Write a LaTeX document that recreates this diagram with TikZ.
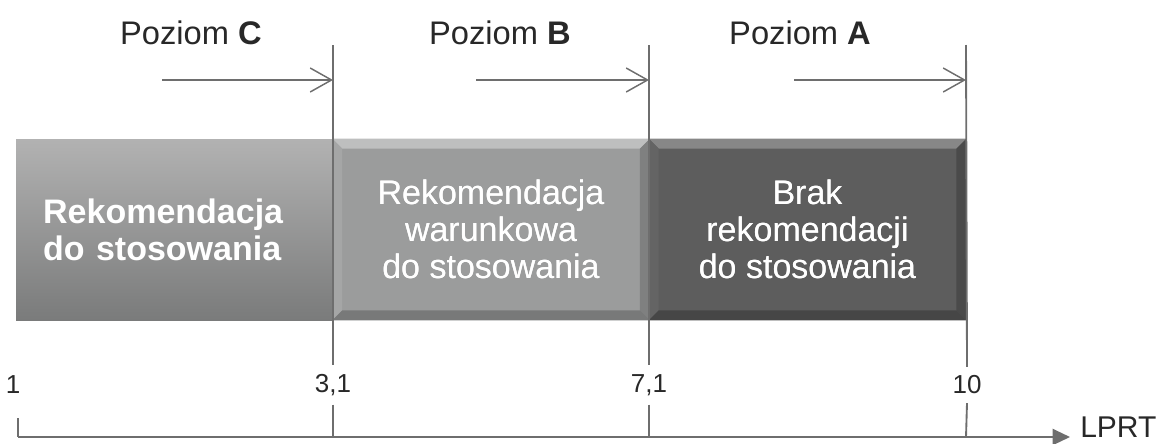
\documentclass[tikz,border=0pt]{standalone}
\usepackage{fontspec}
\setmainfont{Liberation Sans}
\usetikzlibrary{arrows.meta,calc}

\definecolor{linegray}{RGB}{110,110,110}
\definecolor{txtgray}{RGB}{40,40,40}
\definecolor{boxlighttop}{RGB}{178,178,178}
\definecolor{boxlightbot}{RGB}{122,123,123}
\definecolor{boxmid}{RGB}{155,156,156}
\definecolor{boxmidhi}{RGB}{190,191,191}
\definecolor{boxmidside}{RGB}{165,166,166}
\definecolor{boxmidlo}{RGB}{120,121,121}
\definecolor{boxdark}{RGB}{93,93,93}
\definecolor{boxdarkhi}{RGB}{135,135,135}
\definecolor{boxdarkside}{RGB}{100,100,100}
\definecolor{boxdarklo}{RGB}{70,70,70}

\tikzset{
  guide/.style={draw=linegray, line width=1.4pt},
  levelarrow/.style={draw=linegray, line width=1.6pt,
    -{Straight Barb[length=16pt,width=18pt,line width=1.1pt]}},
  axisline/.style={draw=linegray, line width=1.6pt,
    -{Triangle[length=13pt,width=12pt]}},
  box/.style={minimum width=237.75pt, minimum height=135.75pt, inner sep=0pt,
    text=white, font=\fontsize{25.5}{27.75}\selectfont, align=center},
  levellabel/.style={text=txtgray, font=\fontsize{24.5}{28}\selectfont},
  tick/.style={text=txtgray, font=\fontsize{19.5}{22}\selectfont, inner ysep=6.5pt},
}

\begin{document}
\begin{tikzpicture}[x=0.75pt,y=0.75pt,yscale=-1,xscale=1]
\useasboundingbox (0,0) rectangle (1169,443);

% three recommendation boxes
\node[box, top color=boxlighttop, bottom color=boxlightbot,
  text width=197pt, inner xsep=20.25pt, align=left,
  font=\fontsize{25.5}{27.75}\selectfont\bfseries] (rec) at (174.5,229.5)
  {Rekomendacja\\do stosowania};
\node[box, fill=boxmid] (cond) at (491,229.5)
  {Rekomendacja\\warunkowa\\do stosowania};
\node[box, fill=boxdark] (norec) at (807.5,229.5)
  {Brak\\rekomendacji\\do stosowania};

% bevelled edges
\foreach \b/\hi/\side/\lo in {cond/boxmidhi/boxmidside/boxmidlo, norec/boxdarkhi/boxdarkside/boxdarklo} {
  \fill[\hi] (\b.north west) -- (\b.north east) -- ($(\b.north east)+(-10,10)$)
    -- ($(\b.north west)+(10,10)$) -- cycle;
  \fill[\side] (\b.north west) -- ($(\b.north west)+(10,10)$)
    -- ($(\b.south west)+(10,-10)$) -- (\b.south west) -- cycle;
  \fill[\lo!85!\side] (\b.north east) -- ($(\b.north east)+(-10,10)$)
    -- ($(\b.south east)+(-10,-10)$) -- (\b.south east) -- cycle;
  \fill[\lo] (\b.south west) -- ($(\b.south west)+(10,-10)$)
    -- ($(\b.south east)+(-10,-10)$) -- (\b.south east) -- cycle;
}
\node[box, fill=none] at (cond) {Rekomendacja\\warunkowa\\do stosowania};
\node[box, fill=none] at (norec) {Brak\\rekomendacji\\do stosowania};

% level labels
\node[levellabel] (levC) at (191,33) {Poziom \textbf{C}};
\node[levellabel] (levB) at (500,33) {Poziom \textbf{B}};
\node[levellabel] (levA) at (800,33) {Poziom \textbf{A}};

% scale values
\node[tick] (v1) at (13,385) {1};
\node[tick] (v31) at (333,385) {3,1};
\node[tick] (v71) at (649,385) {7,1};
\node[tick] (v10) at (967,385) {10};

% boundaries
\coordinate (topC) at (333,45);
\coordinate (topB) at (649,45);
\coordinate (topA) at (966,45);
\coordinate (axis0) at (18,437);
\coordinate (axisC) at (333,437);
\coordinate (axisB) at (649,437);
\coordinate (axisA) at (966,437);
\coordinate (tick0) at (18,418);
\draw[guide] (topC) -- (v31.north);
\draw[guide] (v31.south) -- (axisC);
\draw[guide] (topB) -- (v71.north);
\draw[guide] (v71.south) -- (axisB);
\draw[guide] (topA) -- (v10.north);
\draw[guide] (v10.south) -- (axisA);
\draw[guide] (tick0) -- (axis0);

% level arrows
\coordinate (startC) at (162,80);
\coordinate (startB) at (476,80);
\coordinate (startA) at (794,80);
\draw[levelarrow] (startC) -- (topC |- startC);
\draw[levelarrow] (startB) -- (topB |- startB);
\draw[levelarrow] (startA) -- (topA |- startA);

% axis
\coordinate (axisend) at (1070,437);
\coordinate (lprtpos) at (1072,437.5);
\draw[axisline] (axis0) -- (axisend);
\node[tick, anchor=base west, font=\fontsize{22.5}{26}\selectfont, inner sep=0pt, xshift=6pt] (lprt) at (lprtpos) {LPRT};

\end{tikzpicture}
\end{document}
